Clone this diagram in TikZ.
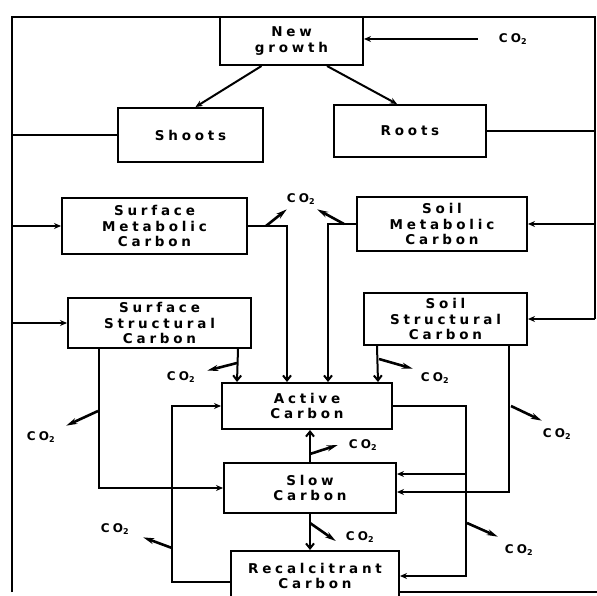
\documentclass[tikz,border=0pt]{standalone}
\usepackage{fontspec}
\newfontfamily\plotfont{DejaVu Sans}[LetterSpace=28]
\usetikzlibrary{arrows.meta}

\begin{document}
\begin{tikzpicture}[x=1pt,y=-1pt,line width=2pt,
  pool/.style={draw,align=center,inner sep=0pt,
    font=\plotfont\bfseries\fontsize{13.5}{15.5}\selectfont},
  gas/.style={inner sep=0pt,font=\plotfont\bfseries\fontsize{12}{13}\selectfont},
  flow/.style={-{Stealth[length=7pt,width=6pt]}},
  drop/.style={-{Straight Barb[length=5pt,width=8pt]}},
  vent/.style={line width=2.6pt,-{Stealth[length=11pt,width=6pt]}}]
  \useasboundingbox (0,0) rectangle (597,596);
  \coordinate (lf) at (12,17);
  \coordinate (rf) at (595,17);
  \coordinate (bf) at (597,592);
  \node[pool,minimum width=143pt,minimum height=48pt] (ng) at (291.5,41) {New\\growth};
  \node[pool,minimum width=145pt,minimum height=54pt] (shoots) at (190.5,135) {Shoots};
  \node[pool,minimum width=152pt,minimum height=52pt] (roots) at (410,131) {Roots};
  \node[pool,minimum width=185pt,minimum height=56pt] (smc) at (154.5,226) {Surface\\Metabolic\\Carbon};
  \node[pool,minimum width=170pt,minimum height=54pt] (omc) at (442,224) {Soil\\Metabolic\\Carbon};
  \node[pool,minimum width=183pt,minimum height=50pt] (ssc) at (159.5,323) {Surface\\Structural\\Carbon};
  \node[pool,minimum width=163pt,minimum height=52pt] (osc) at (445.5,319) {Soil\\Structural\\Carbon};
  \node[pool,minimum width=170pt,minimum height=46pt] (active) at (307,406) {Active\\Carbon};
  \node[pool,minimum width=172pt,minimum height=50pt] (slow) at (310,488) {Slow\\Carbon};
  \node[pool,minimum width=168pt,minimum height=50pt] (recal) at (315,576) {Recalcitrant\\Carbon};
  \node[gas] (co2a) at (513,39) {CO\textsubscript{2}};
  \node[gas] (co2b) at (301,199) {CO\textsubscript{2}};
  \node[gas] (co2c) at (181,377) {CO\textsubscript{2}};
  \node[gas] (co2d) at (41,437) {CO\textsubscript{2}};
  \node[gas] (co2e) at (435,378) {CO\textsubscript{2}};
  \node[gas] (co2f) at (557,434) {CO\textsubscript{2}};
  \node[gas] (co2g) at (519,550) {CO\textsubscript{2}};
  \node[gas] (co2h) at (363,445) {CO\textsubscript{2}};
  \node[gas] (co2i) at (360,537) {CO\textsubscript{2}};
  \node[gas] (co2j) at (115,529) {CO\textsubscript{2}};
  \draw (lf |- bf) -- (lf) -- (rf) -- (rf |- osc.east);
  \draw (bf -| recal.east) -- (bf);
  \draw[flow,shorten <=20pt] (co2a) -- (co2a -| ng.east);
  \draw[flow] ([xshift=-30pt]ng.south) -- ([xshift=5pt]shoots.north);
  \draw[flow] ([xshift=35.5pt]ng.south) -- ([xshift=-13pt]roots.north);
  \draw (shoots.west) -- (shoots.west -| lf);
  \draw (roots.east) -- (roots.east -| rf);
  \draw[flow] (smc.west -| lf) -- (smc.west);
  \draw[flow] (ssc.west -| lf) -- (ssc.west);
  \draw[flow] (omc.east -| rf) -- (omc.east);
  \draw[flow] (osc.east -| rf) -- (osc.east);
  \draw[drop] (smc.east) -| ([xshift=-20pt]active.north);
  \draw[drop] (omc.west) -| ([xshift=21pt]active.north);
  \draw[drop] ([xshift=-14pt]ssc.south east) -- ([xshift=-70pt]active.north);
  \draw[drop] ([xshift=14pt]osc.south west) -- ([xshift=71pt]active.north);
  \draw[flow] ([xshift=32pt]ssc.south west) |- (slow.west);
  \draw[flow] ([xshift=-19pt]osc.south east) |- ([yshift=-4pt]slow.east);
  \coordinate (bus) at ([xshift=73pt]active.east);
  \coordinate (s1) at ([yshift=14pt]slow.east);
  \draw[flow] (active.east) -- (bus) |- (recal.east);
  \draw[flow] (bus |- s1) -- (s1);
  \draw[drop] (slow.north) -- (slow.north |- active.south);
  \draw[drop] (slow.south) -- (slow.south |- recal.north);
  \draw[flow] ([yshift=-6pt]recal.west) -- ++(-58,0) |- (active.west);
  \draw[vent] ([xshift=18pt]smc.east) -- ([xshift=1pt,yshift=-4pt]co2b.south west);
  \draw[vent] ([xshift=-12pt]omc.west) -- ([xshift=1pt,yshift=-4pt]co2b.south east);
  \draw[vent] ([xshift=-15pt,yshift=-14pt]ssc.south east) -- ([xshift=11pt]co2c.north east);
  \draw[vent] ([xshift=31pt,yshift=-62pt]ssc.south west) -- ([xshift=10pt,yshift=5pt]co2d.north east);
  \draw[vent] ([xshift=16pt,yshift=-13pt]osc.south west) -- ([xshift=-7pt,yshift=3pt]co2e.north west);
  \draw[vent] ([xshift=-17pt,yshift=-60pt]osc.south east) -- ([yshift=7pt]co2f.north west);
  \draw[vent] ([xshift=1pt,yshift=-117pt]bus) -- ([xshift=-6pt,yshift=7pt]co2g.north west);
  \draw[vent] ([yshift=8pt]slow.north) -- ([xshift=-10pt]co2h.west);
  \draw[vent] ([yshift=-9pt]slow.south) -- ([xshift=-9pt,yshift=-4pt]co2i.west);
  \draw[vent] ([xshift=-58pt,yshift=28pt]recal.west) -- ([xshift=13pt,yshift=-2pt]co2j.south east);
\end{tikzpicture}
\end{document}
